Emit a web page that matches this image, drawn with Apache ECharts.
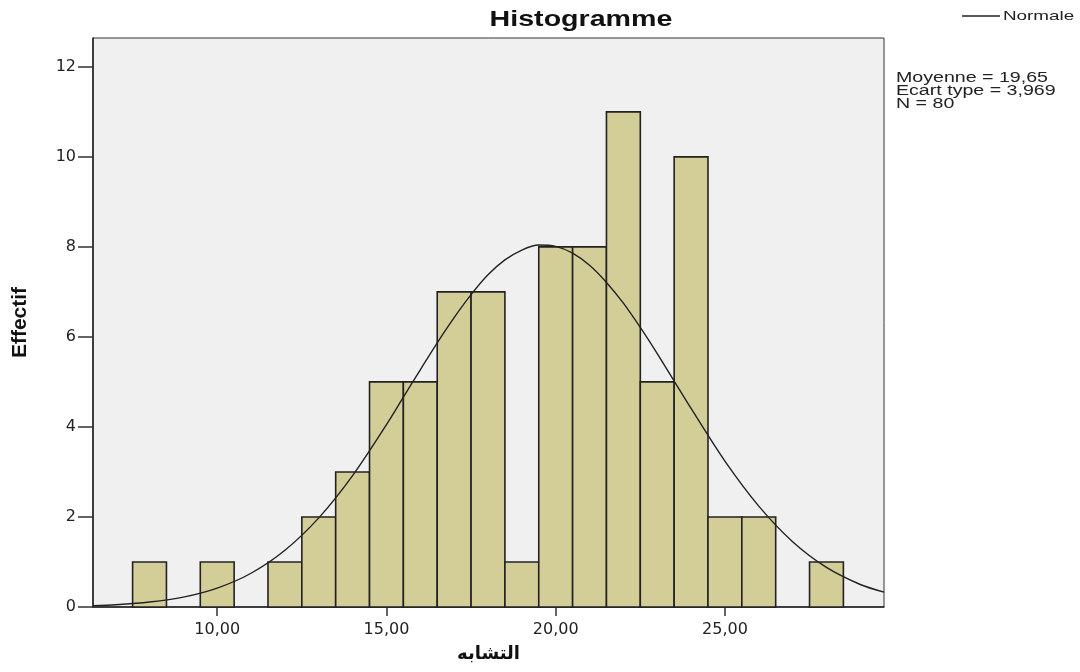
<!DOCTYPE html>
<html><head><meta charset="utf-8">
<script src="https://cdn.jsdelivr.net/npm/echarts@6/dist/echarts.min.js"></script>
<style>html,body{margin:0;padding:0;background:#fff}#c{width:1080px;height:672px}</style>
</head><body><div id="c"></div>
<script>
// Histogram bins (centre of each unit-wide bin) and counts
const binCenters = [8, 10, 12, 13, 14, 15, 16, 17, 18, 19, 20, 21, 22, 23, 24, 25, 26, 28];
const binCounts  = [1, 1, 1, 2, 3, 5, 5, 7, 7, 1, 8, 8, 11, 5, 10, 2, 2, 1];
// Normal curve points
const curveX = [6.33, 7, 8, 9, 10, 11, 12, 13, 14, 15, 15.5, 16, 16.5, 17, 17.5, 18, 18.5, 19, 19.5, 20, 20.5, 21, 21.5, 22, 22.5, 23, 23.5, 24, 25, 26, 27, 28, 29, 29.7];
const curveY = [0.03, 0.05, 0.11, 0.22, 0.42, 0.75, 1.26, 1.98, 2.92, 4.05, 4.66, 5.27, 5.87, 6.43, 6.94, 7.38, 7.71, 7.93, 8.04, 8.01, 7.86, 7.59, 7.21, 6.75, 6.21, 5.63, 5.02, 4.41, 3.24, 2.24, 1.45, 0.88, 0.50, 0.33];
const xTicks = [10, 15, 20, 25];
const statsLines = ['Moyenne = 19,65', 'Ecart type = 3,969', 'N = 80'];

const chart = echarts.init(document.getElementById('c'));
const font = 'Liberation Sans, Arial, sans-serif';
const wide = 'DejaVu Sans, sans-serif';
chart.setOption({
  animation: false,
  grid: {left: 93, right: 196, top: 38, bottom: 65, show: true, backgroundColor: '#F0F0F0', borderColor: '#333', borderWidth: 1,
         containLabel: false, outerBoundsMode: 'none'},
  xAxis: {
    type: 'value', min: 6.33, max: 29.7,
    name: 'التشابه', nameLocation: 'middle', nameGap: 38,
    nameTextStyle: {fontFamily: wide, fontWeight: 'bold', fontSize: 18, color: '#111'},
    axisLine: {show: true, onZero: false, lineStyle: {color: '#222', width: 1.5}},
    axisTick: {show: true, customValues: xTicks, length: 9, lineStyle: {color: '#333', width: 1.5}},
    axisLabel: {customValues: xTicks, formatter: v => v.toFixed(2).replace('.', ','), fontFamily: wide, fontSize: 16, color: '#222', margin: 15},
    splitLine: {show: false}
  },
  yAxis: {
    type: 'value', min: 0, max: 12.64, interval: 2,
    name: 'Effectif', nameLocation: 'middle', nameGap: 62, nameRotate: 90,
    nameTextStyle: {fontFamily: font, fontWeight: 'bold', fontSize: 21, color: '#111'},
    axisLine: {show: true, lineStyle: {color: '#222', width: 1.5}},
    axisTick: {show: true, length: 15, lineStyle: {color: '#333', width: 1.5}},
    axisLabel: {fontFamily: wide, fontSize: 16, color: '#222', margin: 17, showMaxLabel: false},
    splitLine: {show: false}
  },
  graphic: [
    {type: 'text', x: 581, y: 20,
     style: {text: 'Histogramme', fontFamily: font, fontWeight: 'bold', fontSize: 22, fill: '#111', align: 'center', verticalAlign: 'middle'},
     scaleX: 1.3},
    {type: 'line', shape: {x1: 962, y1: 16, x2: 1000, y2: 16}, style: {stroke: '#222', lineWidth: 1.3}},
    {type: 'text', x: 1003, y: 16,
     style: {text: 'Normale', fontFamily: font, fontSize: 13, fill: '#222', verticalAlign: 'middle'},
     scaleX: 1.45},
    {type: 'text', x: 896, y: 72,
     style: {text: statsLines.join('\n'), fontFamily: font, fontSize: 14, lineHeight: 13, fill: '#222'},
     scaleX: 1.4}
  ],
  series: [{
    type: 'custom',
    data: binCenters.map((c, i) => [c, binCounts[i]]),
    renderItem: (params, api) => {
      const x = api.value(0), y = api.value(1);
      const p1 = api.coord([x - 0.5, y]);
      const p2 = api.coord([x + 0.5, 0]);
      return {type: 'rect', shape: {x: p1[0], y: p1[1], width: p2[0] - p1[0], height: p2[1] - p1[1]},
        style: {fill: '#D3CE98', stroke: '#222', lineWidth: 1.6}};
    },
    z: 2
  }, {
    name: 'Normale', type: 'line', smooth: 0.3, symbol: 'none',
    data: curveX.map((x, i) => [x, curveY[i]]),
    lineStyle: {color: '#222', width: 1.4}, itemStyle: {color: '#222'}, z: 3
  }]
});
</script></body></html>
